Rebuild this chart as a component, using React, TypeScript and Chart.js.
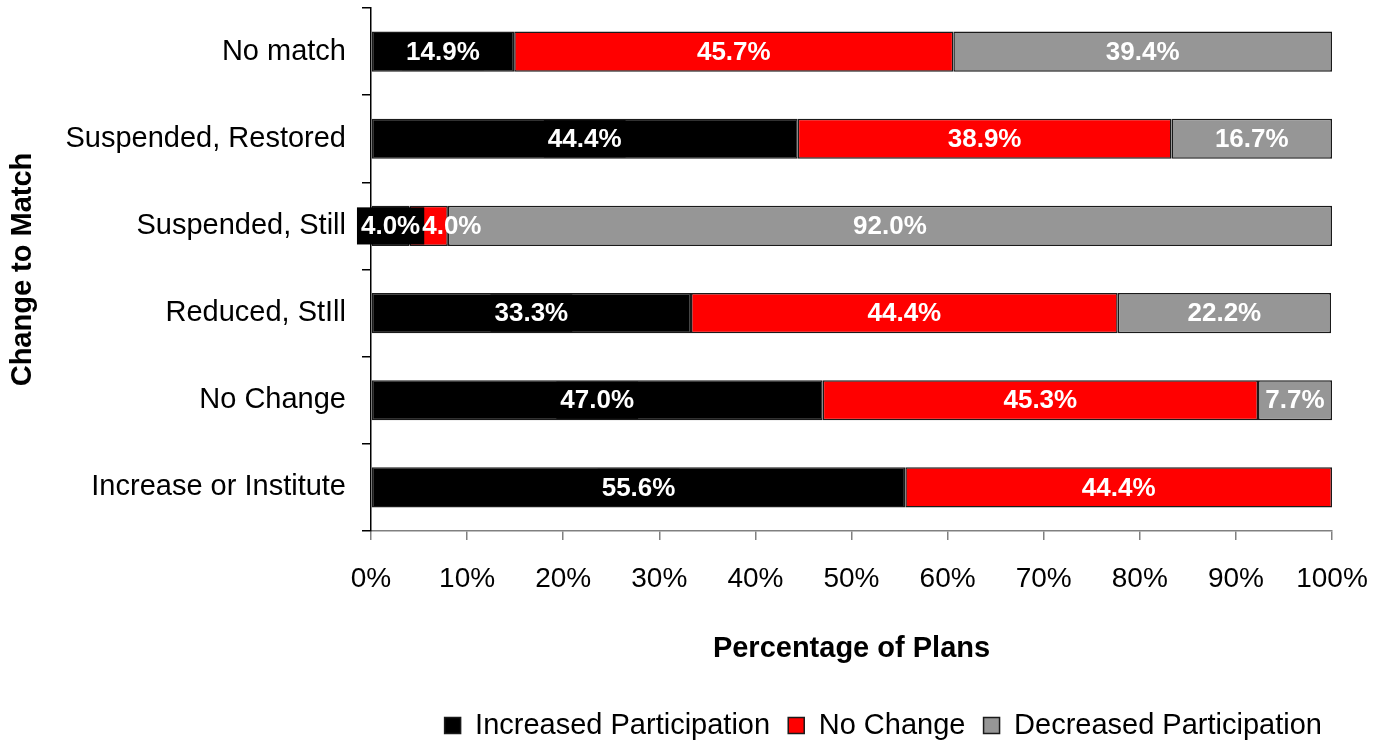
import React, { useEffect, useRef } from "react";
import { Chart, registerables } from "chart.js";

Chart.register(...registerables);

const categories = [
  "No match",
  "Suspended, Restored",
  "Suspended, Still",
  "Reduced, StIll",
  "No Change",
  "Increase or Institute",
];
const increasedParticipation = [14.9, 44.4, 4.0, 33.3, 47.0, 55.6];
const noChange = [45.7, 38.9, 4.0, 44.4, 45.3, 44.4];
const decreasedParticipation = [39.4, 16.7, 92.0, 22.2, 7.7, 0];
const seriesNames = ["Increased Participation", "No Change", "Decreased Participation"];
const seriesColors = ["#000000", "#FF0000", "#969696"];
const xTicks = [0, 10, 20, 30, 40, 50, 60, 70, 80, 90, 100];

const FONT = "'Liberation Sans', Arial, Helvetica, sans-serif";

const labelPlugin = {
  id: "segmentLabels",
  afterDatasetsDraw(chart: any) {
    const ctx = chart.ctx;
    ctx.save();
    ctx.font = `bold 26px ${FONT}`;
    ctx.textBaseline = "middle";
    ctx.textAlign = "left";
    const n = chart.data.labels.length;
    for (let i = 0; i < n; i++) {
      let prevRight = -Infinity;
      chart.data.datasets.forEach((ds: any, di: number) => {
        const meta = chart.getDatasetMeta(di);
        const el: any = meta.data[i];
        const v = ds.data[i];
        if (!el || !v) return;
        const text = v.toFixed(1) + "%";
        const w = ctx.measureText(text).width;
        const cx = (el.x + el.base) / 2;
        let left = cx - w / 2;
        if (left < prevRight + 2) left = prevRight + 2;
        const h = el.height;
        if (di === 0) {
          ctx.fillStyle = seriesColors[0];
          ctx.fillRect(left - 4, el.y - h / 2 + 1.5, w + 8, h - 3);
        }
        ctx.fillStyle = "#FFFFFF";
        ctx.fillText(text, left, el.y + 1);
        prevRight = left + w;
      });
    }
    ctx.restore();
  },
};

export default function App() {
  const ref = useRef<HTMLCanvasElement | null>(null);
  useEffect(() => {
    if (!ref.current) return;
    const series = [increasedParticipation, noChange, decreasedParticipation];
    const legendTexts = seriesNames.map((n, i) => (i < seriesNames.length - 1 ? n + "  " : n + " "));
    const chart = new Chart(ref.current, {
      type: "bar",
      data: {
        labels: categories,
        datasets: series.map((d, i) => ({
          label: seriesNames[i],
          data: d,
          backgroundColor: seriesColors[i],
          borderColor: "#1a1a1a",
          borderWidth: 1.5,
          borderSkipped: false,
          barPercentage: 0.46,
          categoryPercentage: 1,
        })),
      },
      options: {
        indexAxis: "y",
        animation: false,
        responsive: true,
        maintainAspectRatio: false,
        layout: { padding: { top: 8, right: 51, bottom: -10, left: 0 } },
        plugins: {
          tooltip: { enabled: false },
          legend: {
            position: "bottom",
            align: "end",
            labels: {
              font: { family: FONT, size: 29 },
              color: "#000",
              boxWidth: 16,
              boxHeight: 16,
              padding: 2,
              generateLabels: () =>
                legendTexts.map((name, i) => ({
                  text: name,
                  fillStyle: seriesColors[i],
                  strokeStyle: "#1a1a1a",
                  lineWidth: 1.5,
                  datasetIndex: i,
                  hidden: false,
                })),
            },
          },
        },
        scales: {
          x: {
            stacked: true,
            min: 0,
            max: 100,
            afterBuildTicks: (s: any) => {
              s.ticks = xTicks.map((v) => ({ value: v }));
            },
            afterFit: (s: any) => {
              s.height = 178;
              s.paddingLeft = 0;
              s.paddingRight = 0;
            },
            ticks: {
              callback: (v: any) => v + "%",
              font: { family: FONT, size: 28 },
              color: "#000",
              padding: 22,
              maxRotation: 0,
            },
            grid: {
              drawOnChartArea: false,
              tickLength: 9,
              color: "#808080",
              lineWidth: 1.5,
            },
            border: { color: "#808080", width: 1.5 },
            title: {
              display: true,
              text: "Percentage of Plans",
              font: { family: FONT, size: 29, weight: "bold" },
              color: "#000",
              padding: { top: 0, bottom: 43 },
            },
          },
          y: {
            stacked: true,
            afterFit: (s: any) => {
              s.width = 371;
              s.paddingTop = 0;
              s.paddingBottom = 0;
            },
            ticks: {
              font: { family: FONT, size: 29 },
              color: "#000",
              padding: 16,
            },
            grid: {
              offset: true,
              drawOnChartArea: false,
              tickLength: 9,
              color: "#000",
              lineWidth: 1.5,
            },
            border: { color: "#000", width: 1.5 },
            title: {
              display: true,
              text: "Change to Match",
              font: { family: FONT, size: 29, weight: "bold" },
              color: "#000",
              padding: { top: 6, bottom: 0 },
            },
          },
        },
      },
      plugins: [labelPlugin],
    } as any);
    return () => chart.destroy();
  }, []);
  return (
    <div style={{ position: "absolute", left: 0, top: 0, width: 1383, height: 740, background: "#fff" }}>
      <canvas ref={ref} />
    </div>
  );
}
